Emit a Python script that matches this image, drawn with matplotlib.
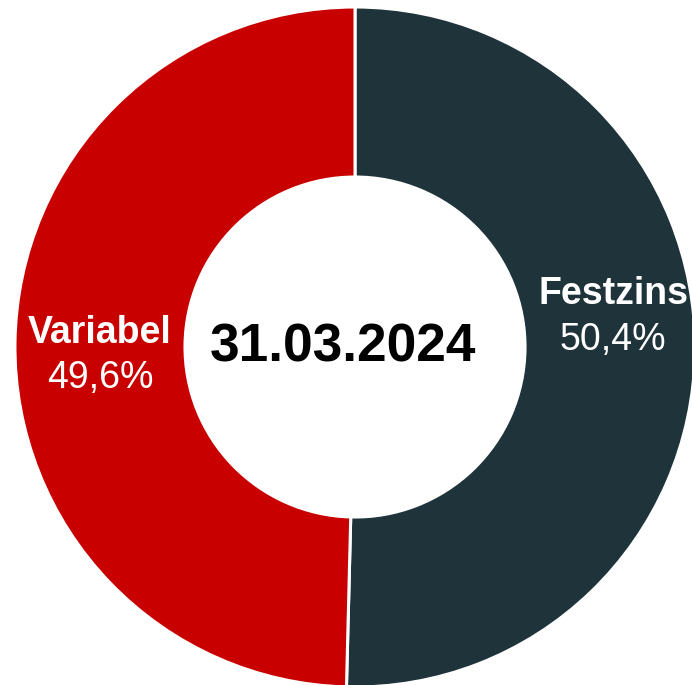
import matplotlib.pyplot as plt

plt.rcParams['font.family'] = ['Liberation Sans', 'DejaVu Sans']

# Daten
labels = ['Festzins', 'Variabel']
werte = [50.4, 49.6]
werte_txt = ['50,4%', '49,6%']
farben = ['#1F333B', '#C80000']
datum = '31.03.2024'

fig = plt.figure(figsize=(6.92, 6.85), dpi=100)
ax = fig.add_axes([0, 0, 1, 1])
ax.pie(werte, colors=farben, startangle=90, counterclock=False,
       radius=1.0, wedgeprops=dict(width=0.5, edgecolor='white', linewidth=2.2))

# Beschriftungen
pos = [(0.759, 0.156, 0.02), (-0.75, 0.041, -0.091)]
for (x, y1, y2), lab, txt in zip(pos, labels, werte_txt):
    ax.text(x, y1, lab, color='white', fontsize=27, fontweight='bold',
            ha='center', va='center')
    ax.text(x, y2, txt, color='white', fontsize=27, ha='center', va='center')

ax.text(-0.035, 0.0, datum, fontsize=38.3, fontweight='bold', color='black',
        ha='center', va='center')

ax.set_xlim(-1.044, 0.991)
ax.set_ylim(-0.994, 1.0206)
ax.set_aspect('auto')
ax.axis('off')

fig.savefig('out.png', dpi=100)
